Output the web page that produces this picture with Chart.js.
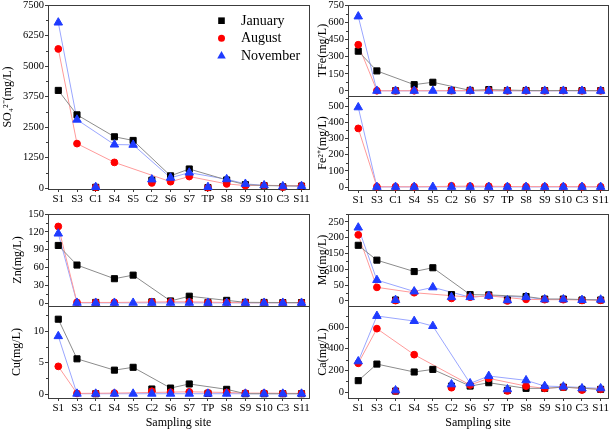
<!DOCTYPE html>
<html><head><meta charset="utf-8">
<script src="https://cdn.jsdelivr.net/npm/chart.js@4.4.0/dist/chart.umd.min.js"></script>
<style>
html,body{margin:0;padding:0;background:#fff;width:614px;height:431px;overflow:hidden;position:relative}
canvas{position:absolute}
</style></head><body>
<script>
// ---------- data ----------
const sites = ['S1','S3','C1','S4','S5','C2','S6','S7','TP','S8','S9','S10','C3','S11'];
const months = ['January','August','November'];

const so4Ticks = [0, 1250, 2500, 3750, 5000, 6250, 7500];
const so4Jan = [4000, 3000, 30, 2100, 1950, 320, 500, 780, 20, 330, 140, 100, 50, 80];
const so4Aug = [5700, 1820, 30, 1050, null, 210, 260, 470, 20, 170, 100, 110, 40, 90];
const so4Nov = [6780, 2800, 40, 1780, 1770, 350, 420, 630, 40, 360, 170, 110, 70, 80];

const tfeTicks = [0, 150, 300, 450, 600, 750];
const tfeJan = [347, 175, 2, 55, 76, 3, 5, 12, 3, 4, 3, 4, 3, 3];
const tfeAug = [403, 2, 2, 2, null, 3, 3, 3, 2, 2, 2, 3, 2, 2];
const tfeNov = [650, 1, 1, 1, 1, 1, 1, 1, 1, 1, 1, 1, 1, 1];

const feTicks = [0, 100, 200, 300, 400, 500];
const feJan = [null, null, null, null, null, null, null, null, null, null, null, null, null, null];
const feAug = [362, 2, 2, 2, null, 8, 6, 5, 3, 3, 3, 3, 2, 2];
const feNov = [492, 1, 1, 1, 1, 1, 1, 1, 1, 1, 1, 1, 1, 1];

const znTicks = [0, 30, 60, 90, 120, 150];
const znJan = [97, 64, 1, 41, 47, 2, 3.5, 11.5, 1, 4.5, 1.2, 1, 0.8, 0.8];
const znAug = [129, 1, 1, 1, null, 2, 2, 2, 1, 1, 0.5, 0.5, 0.5, 0.5];
const znNov = [117, 0.3, 0.3, 0.3, 0.3, 0.3, 0.3, 0.3, 0.3, 0.3, 0.3, 0.3, 0.3, 0.3];

const cuTicks = [0, 5, 10];
const cuJan = [11.9, 5.6, 0.05, 3.8, 4.25, 0.8, 0.95, 1.6, 0.1, 0.75, 0.05, 0.05, 0.05, 0.05];
const cuAug = [4.4, 0.1, 0.1, 0.15, null, 0.45, 0.3, 0.35, 0.2, 0.25, 0.15, 0.15, 0.1, 0.1];
const cuNov = [9.2, 0.05, 0.05, 0.05, 0.05, 0.05, 0.05, 0.05, 0.05, 0.05, 0.05, 0.05, 0.05, 0.05];

const mgTicks = [0, 50, 100, 150, 200, 250];
const mgJan = [176, 129, 3, 93, 105, 20, 20, 19, 3, 14, 6, 6, 3, 3];
const mgAug = [209, 43, 1, 26, null, 8, 12, 16, 0, 5, 4, 4, 1.5, 2];
const mgNov = [232, 66, 3, 30, 43, 12, 12, 16, 2, 12, 5, 5, 3, 4];

const caTicks = [0, 200, 400, 600];
const caJan = [105, 258, 9, 185, 209, 55, 55, 86, 15, 34, 34, 45, 25, 25];
const caAug = [265, 585, 10, 345, null, 40, 65, 126, 10, 55, 34, 45, 18, 25];
const caNov = [283, 702, 15, 655, 609, 71, 80, 148, 25, 108, 55, 50, 34, 34];

// ---------- styles ----------
const FONT = "'Liberation Serif', 'Times New Roman', serif";
Chart.defaults.font.family = FONT;
Chart.defaults.color = '#000';
Chart.defaults.animation = false;

const seriesStyle = [
  {color:'#000000', line:'#8c8c8c', style:'rect', r:4.3},
  {color:'#ff0000', line:'#ff9a9a', style:'circle', r:3.4},
  {color:'#1f3bff', line:'#9aa6ff', style:'triangle', r:4.9}
];
const AXIS = '#3c3c3c';

const framePlugin = {
  id: 'frame',
  beforeDatasetsDraw(chart) {
    const {ctx, chartArea: a} = chart;
    ctx.save();
    ctx.strokeStyle = AXIS; ctx.lineWidth = 1;
    const l = Math.round(a.left) + 0.5, t = Math.round(a.top) + 0.5;
    ctx.strokeRect(l, t, Math.round(a.right - a.left), Math.round(a.bottom - a.top));
    const s = chart.scales.y, tk = s.ticks;
    if (tk.length > 1) {
      const step = tk[1].value - tk[0].value;
      ctx.beginPath();
      for (let v = tk[0].value - step / 2; v <= s.max; v += step) {
        if (v < s.min) continue;
        const y = Math.round(s.getPixelForValue(v)) + 0.5;
        ctx.moveTo(a.left - 2, y); ctx.lineTo(a.left, y);
      }
      ctx.stroke();
    }
    ctx.restore();
  }
};

const legendPlugin = {
  id: 'legendBox',
  afterDraw(chart) {
    const ctx = chart.ctx, a = chart.chartArea;
    const mx = 221.5, tx = 241;
    const rows = [15.7, 33.3, 50.5];
    ctx.save();
    months.forEach((m, k) => {
      const y = a.top + rows[k];
      const st = seriesStyle[k];
      ctx.fillStyle = st.color;
      ctx.beginPath();
      if (st.style === 'rect') ctx.rect(mx - 3.3, y - 3.3, 6.6, 6.6);
      else if (st.style === 'circle') ctx.arc(mx, y, 3.5, 0, Math.PI * 2);
      else { ctx.moveTo(mx, y - 4.6); ctx.lineTo(mx + 4.3, y + 3); ctx.lineTo(mx - 4.3, y + 3); ctx.closePath(); }
      ctx.fill();
      ctx.fillStyle = '#000';
      ctx.font = '14px ' + FONT;
      ctx.textBaseline = 'middle';
      ctx.fillText(m, tx, y + 0.5);
    });
    ctx.restore();
  }
};

const xTickValues = sites.map((s, i) => i);

function makePanel(p) {
  const c = document.createElement('canvas');
  c.width = p.cw; c.height = p.ch;
  c.style.left = p.cx + 'px'; c.style.top = p.cy + 'px';
  document.body.appendChild(c);
  const datasets = [];
  p.series.forEach((vals, k) => {
    const st = seriesStyle[k];
    datasets.push({
      label: months[k] + ' line',
      data: vals.map((v, i) => ({x: i, y: sites[i][0] === 'S' ? v : null})),
      borderColor: st.line, borderWidth: 1, pointRadius: 0, spanGaps: true,
      order: 10 + k, clip: false, tension: 0
    });
  });
  p.series.forEach((vals, k) => {
    const st = seriesStyle[k];
    datasets.push({
      label: months[k],
      data: vals.map((v, i) => ({x: i, y: v})),
      showLine: false, pointStyle: st.style, pointRadius: st.r,
      pointBackgroundColor: st.color, pointBorderColor: st.color, pointBorderWidth: 1,
      order: 3 - k, clip: false
    });
  });
  new Chart(c, {
    type: 'line',
    data: {datasets},
    plugins: p.legend ? [framePlugin, legendPlugin] : [framePlugin],
    options: {
      responsive: false, animation: false, devicePixelRatio: 1,
      layout: {padding: {top: p.ft - p.cy, right: p.cx + p.cw - p.fr, left: 0, bottom: 0}},
      plugins: {legend: {display: false}, tooltip: {enabled: false}},
      scales: {
        x: {
          type: 'linear', min: -0.55, max: 13.4,
          afterBuildTicks(s) { s.ticks = xTickValues.map(v => ({value: v})); },
          afterFit(s) { s.height = p.cy + p.ch - p.fb; s.paddingLeft = 0; s.paddingRight = 0; },
          ticks: {display: p.showX, autoSkip: false, maxRotation: 0, minRotation: 0,
                  padding: 1, font: {size: 11}, color: '#000',
                  callback: v => (sites[v] !== undefined ? sites[v] : '')},
          grid: {drawOnChartArea: false, drawTicks: p.showX, tickLength: 3, color: AXIS},
          border: {display: false},
          title: {display: !!p.xTitle, text: p.xTitle || '', font: {size: 12}, color: '#000', padding: {top: 0, bottom: 1}}
        },
        y: {
          type: 'linear', min: p.min, max: p.max,
          afterBuildTicks(s) { s.ticks = p.ticks.map(v => ({value: v})); },
          afterFit(s) { s.width = p.fl - p.cx; s.paddingTop = 0; s.paddingBottom = 0; },
          ticks: {autoSkip: false, padding: 1, font: {size: 10.5}, color: '#000',
                  callback: v => String(v)},
          grid: {drawOnChartArea: false, tickLength: 3, color: AXIS},
          border: {display: false},
          title: {display: true, text: p.title, font: {size: 12}, color: '#000', padding: {top: p.tpad, bottom: 0}}
        }
      }
    }
  });
}

// left column
makePanel({cx: 0, cy: -5, cw: 319, ch: 220, fl: 48, ft: 5, fr: 309, fb: 189,
  min: -40, max: 7500, ticks: so4Ticks, title: 'SO\u2084\u00B2\u207B(mg/L)', tpad: 1, showX: true,
  series: [so4Jan, so4Aug, so4Nov], legend: true});
makePanel({cx: 0, cy: 204, cw: 319, ch: 112, fl: 48, ft: 214, fr: 309, fb: 306,
  min: -5, max: 150, ticks: znTicks, title: 'Zn(mg/L)', tpad: 11, showX: false,
  series: [znJan, znAug, znNov]});
makePanel({cx: 0, cy: 296, cw: 319, ch: 135, fl: 48, ft: 306, fr: 309, fb: 398,
  min: -0.63, max: 14, ticks: cuTicks, title: 'Cu(mg/L)', tpad: 10, showX: true, xTitle: 'Sampling site',
  series: [cuJan, cuAug, cuNov]});
// right column
makePanel({cx: 310, cy: -5, cw: 304, ch: 111, fl: 348, ft: 5, fr: 611, fb: 96,
  min: -44, max: 750, ticks: tfeTicks, title: 'TFe(mg/L)', tpad: 5.5, showX: false,
  series: [tfeJan, tfeAug, tfeNov]});
makePanel({cx: 310, cy: 86, cw: 304, ch: 129, fl: 348, ft: 96, fr: 611, fb: 190,
  min: -18, max: 562, ticks: feTicks, title: 'Fe\u00B2\u207A(mg/L)', tpad: 5.5, showX: true,
  series: [feJan, feAug, feNov]});
makePanel({cx: 310, cy: 204, cw: 304, ch: 112, fl: 348, ft: 214, fr: 611, fb: 306,
  min: -16, max: 275, ticks: mgTicks, title: 'Mg(mg/L)', tpad: 5.5, showX: false,
  series: [mgJan, mgAug, mgNov]});
makePanel({cx: 310, cy: 296, cw: 304, ch: 135, fl: 348, ft: 306, fr: 611, fb: 398,
  min: -55, max: 794, ticks: caTicks, title: 'Ca(mg/L)', tpad: 5.5, showX: true, xTitle: 'Sampling site',
  series: [caJan, caAug, caNov]});
</script>
</body></html>
